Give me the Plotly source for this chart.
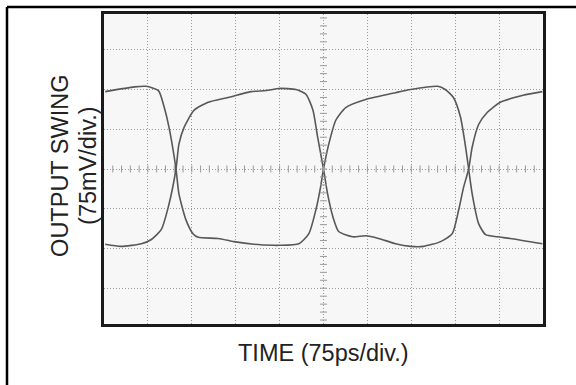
import numpy as np
import plotly.graph_objects as go

# Differential output waveforms: time in ps, amplitude in mV
time_a = [-373, -323, -303, -282, -272, -264, -252, -247, -235, -223, -214, -180,
          -153, -119, -85, -76, -42, -25, -13, -5, 0, 9, 21, 38, 72, 123, 149,
          195, 208, 222, 234, 242, 248, 254, 265, 277, 297, 319, 374]
volt_a = [146, 155, 156, 148, 116, 79, 0, -47, -96, -122, -129, -131,
          -137, -142, -144, -144, -141, -122, -77, -34, 0, 47, 92, 116, 131, 144, 150,
          156, 150, 135, 98, 47, 0, -47, -103, -124, -128, -131, -141]

time_b = [-373, -346, -311, -294, -277, -265, -252, -247, -238, -221, -197, -163,
          -124, -98, -76, -47, -30, -18, -10, 0, 7, 16, 26, 50, 72, 94, 123,
          149, 171, 200, 220, 231, 239, 248, 254, 265, 280, 302, 341, 374]
volt_b = [-142, -146, -141, -133, -114, -71, 0, 47, 79, 111, 126, 135,
          146, 148, 152, 150, 141, 111, 60, 0, -47, -90, -118, -128, -126, -131, -141,
          -146, -146, -137, -122, -77, -36, 0, 41, 84, 107, 126, 139, 146]

# Scope scale: 75 ps/div, 75 mV/div
X_DIV = 75
Y_DIV = 75
X_RANGE = [-375, 375]
Y_RANGE = [-292.5, 292.5]

trace_color = "#585858"
grid_color = "#9a9a9a"

fig = go.Figure()

for t, v in ((time_a, volt_a), (time_b, volt_b)):
    fig.add_trace(go.Scatter(
        x=t, y=v, mode="lines",
        line=dict(color=trace_color, width=1.6, shape="spline", smoothing=0.6),
        hoverinfo="skip", showlegend=False,
    ))

# Minor tick marks along the centre graticule lines (5 per division)
tx = np.arange(X_RANGE[0] + X_DIV / 5, X_RANGE[1], X_DIV / 5)
ty = np.arange(-3.8 * Y_DIV, 3.9 * Y_DIV, Y_DIV / 5)
ty = ty[(ty > Y_RANGE[0]) & (ty < Y_RANGE[1])]
fig.add_trace(go.Scatter(
    x=tx, y=np.zeros_like(tx), mode="markers",
    marker=dict(symbol="line-ns", size=5, line=dict(color=grid_color, width=1)),
    hoverinfo="skip", showlegend=False,
))
fig.add_trace(go.Scatter(
    x=np.zeros_like(ty), y=ty, mode="markers",
    marker=dict(symbol="line-ew", size=5, line=dict(color=grid_color, width=1)),
    hoverinfo="skip", showlegend=False,
))

axis_common = dict(
    showticklabels=False, ticks="", zeroline=False,
    showgrid=True, gridcolor=grid_color, griddash="1px,2px", gridwidth=1,
    showline=True, linecolor="#1a1a1a", linewidth=3, mirror=True,
    fixedrange=True,
)
fig.update_xaxes(range=X_RANGE, dtick=X_DIV, tick0=0, **axis_common)
fig.update_yaxes(range=Y_RANGE, dtick=Y_DIV, tick0=0, **axis_common)

font = dict(family="Liberation Sans, Arial, sans-serif", size=23.5, color="#222222")

fig.update_layout(
    width=576, height=385,
    margin=dict(l=104, r=33, t=11, b=61),
    paper_bgcolor="white",
    plot_bgcolor="#f7f7f7",
    annotations=[
        dict(text="TIME (75ps/div.)", xref="paper", yref="paper",
             x=0.499, y=-0.093, xanchor="center", yanchor="middle",
             showarrow=False, font=font),
        dict(text="OUTPUT SWING", xref="paper", yref="paper",
             x=(60 - 104) / 439, y=0.51, xanchor="center", yanchor="middle",
             textangle=-90, showarrow=False, font=font),
        dict(text="(75mV/div.)", xref="paper", yref="paper",
             x=(88 - 104) / 439, y=0.51, xanchor="center", yanchor="middle",
             textangle=-90, showarrow=False, font=font),
    ],
    shapes=[
        # outer frame (left and top edges)
        dict(type="line", xref="paper", yref="paper",
             x0=(7 - 104) / 439, x1=(7 - 104) / 439, y0=(324 - 4) / 313, y1=(324 - 390) / 313,
             line=dict(color="black", width=2.5)),
        dict(type="line", xref="paper", yref="paper",
             x0=(7 - 104) / 439, x1=(580 - 104) / 439, y0=(324 - 4) / 313, y1=(324 - 4) / 313,
             line=dict(color="black", width=2.5)),
    ],
)

fig.write_html("out.html")
